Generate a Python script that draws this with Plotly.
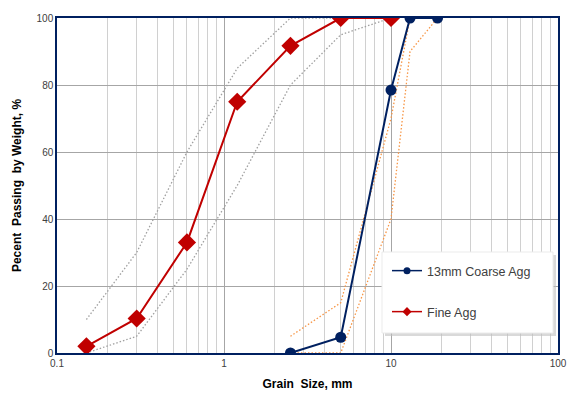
import plotly.graph_objects as go

sieve_coarse = [2.5, 5, 10, 13, 19]
coarse_pass = [0, 4.7, 78.5, 100, 100]
coarse_upper = [5, 15, 70, 100, 100]
coarse_lower = [0, 0, 40, 90, 100]

sieve_fine = [0.15, 0.3, 0.6, 1.2, 2.5, 5, 10]
fine_pass = [2, 10.3, 33, 75, 91.7, 100, 100]
fine_upper = [10, 30, 60, 85, 100, 100, 100]
fine_lower = [0, 5, 25, 50, 80, 95, 100]

x_ticks = [0.1, 1, 10, 100]
x_tick_text = ["0.1", "1", "10", "100"]
x_minor = [m * 10 ** e for e in (-1, 0, 1) for m in range(2, 10)]
y_ticks = [0, 20, 40, 60, 80, 100]

navy = "#002060"
red = "#C00000"
dotgrey = "#A0A0A0"
dotorange = "#F79646"
dots = "1.5px,2px"

fig = go.Figure()
fig.add_trace(go.Scatter(x=sieve_fine, y=fine_upper, mode="lines",
                         line=dict(color=dotgrey, width=1.3, dash=dots), showlegend=False, hoverinfo="skip"))
fig.add_trace(go.Scatter(x=sieve_fine, y=fine_lower, mode="lines",
                         line=dict(color=dotgrey, width=1.3, dash=dots), showlegend=False, hoverinfo="skip"))
fig.add_trace(go.Scatter(x=sieve_coarse, y=coarse_upper, mode="lines",
                         line=dict(color=dotorange, width=1.3, dash=dots), showlegend=False, hoverinfo="skip"))
fig.add_trace(go.Scatter(x=sieve_coarse, y=coarse_lower, mode="lines",
                         line=dict(color=dotorange, width=1.3, dash=dots), showlegend=False, hoverinfo="skip"))
fig.add_trace(go.Scatter(x=sieve_coarse, y=coarse_pass, mode="lines+markers", showlegend=False,
                         line=dict(color=navy, width=2), marker=dict(symbol="circle", size=11, color=navy)))
fig.add_trace(go.Scatter(x=sieve_fine, y=fine_pass, mode="lines+markers", showlegend=False,
                         line=dict(color=red, width=2), marker=dict(symbol="diamond", size=14, color=red)))
# legend entries
fig.add_trace(go.Scatter(x=[None], y=[None], mode="lines+markers", name="13mm Coarse Agg", legend="legend",
                         line=dict(color=navy, width=1.5), marker=dict(symbol="circle", size=7, color=navy)))
fig.add_trace(go.Scatter(x=[None], y=[None], mode="lines+markers", name="Fine Agg", legend="legend2",
                         line=dict(color=red, width=1.5), marker=dict(symbol="diamond", size=7, color=red)))

# legend box with shadow (paper coords over plot area 57..558 x 18..353)
def px_x(p):
    return (p - 57) / 501.0

def px_y(p):
    return (353 - p) / 335.0

fig.add_shape(type="rect", xref="paper", yref="paper", layer="above",
              x0=px_x(385), x1=px_x(556), y0=px_y(255), y1=px_y(336),
              fillcolor="#BFBFBF", line=dict(width=0), opacity=0.6)
fig.add_shape(type="rect", xref="paper", yref="paper", layer="above",
              x0=px_x(382), x1=px_x(553), y0=px_y(252), y1=px_y(333),
              fillcolor="white", line=dict(color="#EBEBEB", width=1))

leg_common = dict(bgcolor="rgba(0,0,0,0)", borderwidth=0, font=dict(size=12.5, color="#404040"),
                  itemwidth=30, xanchor="left", yanchor="middle")
fig.update_layout(
    width=572, height=394,
    margin=dict(l=57, r=14, t=18, b=41),
    paper_bgcolor="white", plot_bgcolor="white",
    font=dict(family="Liberation Sans, Arial, sans-serif", size=10, color="#404040"),
    legend=dict(x=px_x(387), y=px_y(271), **leg_common),
    legend2=dict(x=px_x(387), y=px_y(312), **leg_common),
)
fig.update_xaxes(
    type="log", range=[-1, 2], tickvals=x_ticks, ticktext=x_tick_text,
    showgrid=True, gridcolor="#A6A6A6", gridwidth=1,
    minor=dict(tickvals=x_minor, showgrid=True, gridcolor="#D0D0D0", gridwidth=1),
    showline=True, linecolor=navy, linewidth=1.5, mirror=True,
    ticks="", zeroline=False, automargin=False,
    title=dict(text="<b>Grain  Size, mm</b>", font=dict(size=12, color="#000000"), standoff=12),
)
fig.update_yaxes(
    range=[0, 100], tickvals=y_ticks,
    showgrid=True, gridcolor="#A6A6A6", gridwidth=1,
    showline=True, linecolor=navy, linewidth=1.5, mirror=True,
    ticks="", zeroline=False, automargin=False,
    title=dict(text="<b>Pecent  Passing  by Weight, %</b>", font=dict(size=12, color="#000000"), standoff=12),
)

fig.write_html("out.html")
